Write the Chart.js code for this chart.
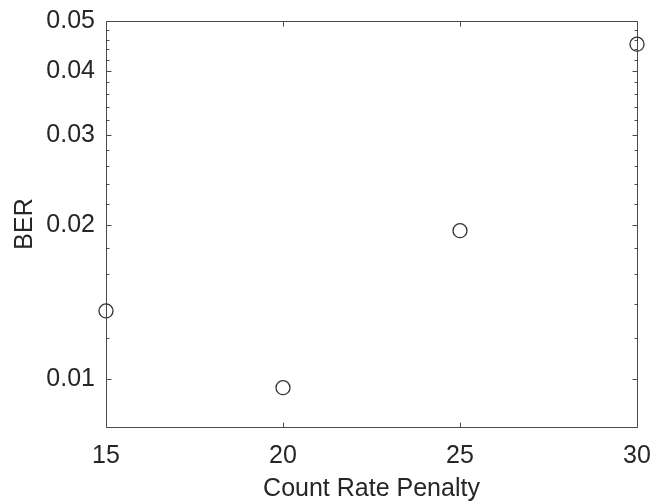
<!DOCTYPE html>
<html>
<head>
<meta charset="utf-8">
<script src="https://cdn.jsdelivr.net/npm/chart.js@4"></script>
<style>
  html, body { margin: 0; padding: 0; background: #ffffff; }
  #wrap { width: 654px; height: 501px; position: relative; }
</style>
</head>
<body>
<div id="wrap"><canvas id="c" width="654" height="501"></canvas></div>
<script>
// ---- data ----
const countRatePenalty = [15, 20, 25, 30];
const berValues = [0.01358, 0.00962, 0.01948, 0.04505];
const xTickValues = [15, 20, 25, 30];
const yTickValues = [0.01, 0.02, 0.03, 0.04, 0.05];
const yMinorTickValues = [0.012, 0.014, 0.016, 0.018, 0.022, 0.024, 0.026, 0.028,
                          0.032, 0.034, 0.036, 0.038, 0.042, 0.044, 0.046, 0.048];
const xAxisTitle = 'Count Rate Penalty';
const yAxisTitle = 'BER';

const axisColor = '#4a4a4a';
const textColor = '#262626';
const fontFamily = '"Liberation Sans", Arial, Helvetica, sans-serif';

const boxPlugin = {
  id: 'matlabBox',
  beforeDatasetsDraw(chart) {
    const ctx = chart.ctx;
    const a = chart.chartArea;
    const xs = chart.scales.x, ys = chart.scales.y;
    ctx.save();
    ctx.strokeStyle = axisColor;
    ctx.lineWidth = 1;
    ctx.beginPath();
    ctx.rect(Math.round(a.left) + 0.5, Math.round(a.top) + 0.5,
             Math.round(a.right - a.left), Math.round(a.bottom - a.top));
    ctx.stroke();
    ctx.beginPath();
    const L = Math.round(a.left) + 0.5, R = Math.round(a.right) + 0.5;
    const T = Math.round(a.top) + 0.5, B = Math.round(a.bottom) + 0.5;
    xTickValues.forEach(v => {
      const px = Math.round(xs.getPixelForValue(v)) + 0.5;
      ctx.moveTo(px, B); ctx.lineTo(px, B - 5);
      ctx.moveTo(px, T); ctx.lineTo(px, T + 5);
    });
    yTickValues.forEach(v => {
      const py = Math.round(ys.getPixelForValue(v)) + 0.5;
      ctx.moveTo(L, py); ctx.lineTo(L + 5, py);
      ctx.moveTo(R, py); ctx.lineTo(R - 5, py);
    });
    yMinorTickValues.forEach(v => {
      const py = Math.round(ys.getPixelForValue(v)) + 0.5;
      ctx.moveTo(L, py); ctx.lineTo(L + 3, py);
      ctx.moveTo(R, py); ctx.lineTo(R - 3, py);
    });
    ctx.stroke();
    ctx.restore();
  }
};

new Chart(document.getElementById('c'), {
  type: 'scatter',
  data: {
    datasets: [{
      data: countRatePenalty.map((x, i) => ({ x: x, y: berValues[i] })),
      showLine: false,
      pointStyle: 'circle',
      pointRadius: 7,
      pointHoverRadius: 7,
      pointBorderWidth: 1.3,
      pointBorderColor: '#333333',
      pointBackgroundColor: 'rgba(0,0,0,0)',
      clip: false
    }]
  },
  options: {
    responsive: false,
    animation: false,
    devicePixelRatio: 1,
    layout: { padding: { top: 21, right: 17, left: 0, bottom: 0 } },
    plugins: { legend: { display: false }, tooltip: { enabled: false } },
    scales: {
      x: {
        type: 'linear',
        min: 15, max: 30,
        afterBuildTicks: s => { s.ticks = xTickValues.map(v => ({ value: v })); },
        afterFit: s => { s.height = 74; s.paddingLeft = 0; s.paddingRight = 0; },
        grid: { display: false, drawTicks: false },
        border: { display: false },
        ticks: {
          color: textColor, padding: 14,
          font: { family: fontFamily, size: 25 },
          callback: v => String(v),
          maxRotation: 0
        },
        title: {
          display: true, text: xAxisTitle, color: textColor,
          font: { family: fontFamily, size: 25, lineHeight: 1.2 },
          padding: { top: 0, bottom: -3 }
        }
      },
      y: {
        type: 'logarithmic',
        min: 0.00806, max: 0.05,
        afterBuildTicks: s => { s.ticks = yTickValues.map(v => ({ value: v })); },
        afterFit: s => { s.width = 106; s.paddingTop = 0; s.paddingBottom = 0; },
        grid: { display: false, drawTicks: false },
        border: { display: false },
        ticks: {
          color: textColor, padding: 11,
          font: { family: fontFamily, size: 25 },
          callback: v => String(v)
        },
        title: {
          display: true, text: yAxisTitle, color: textColor,
          font: { family: fontFamily, size: 25, lineHeight: 1.2 },
          padding: { top: 10, bottom: 0 }
        }
      }
    }
  },
  plugins: [boxPlugin]
});
</script>
</body>
</html>
